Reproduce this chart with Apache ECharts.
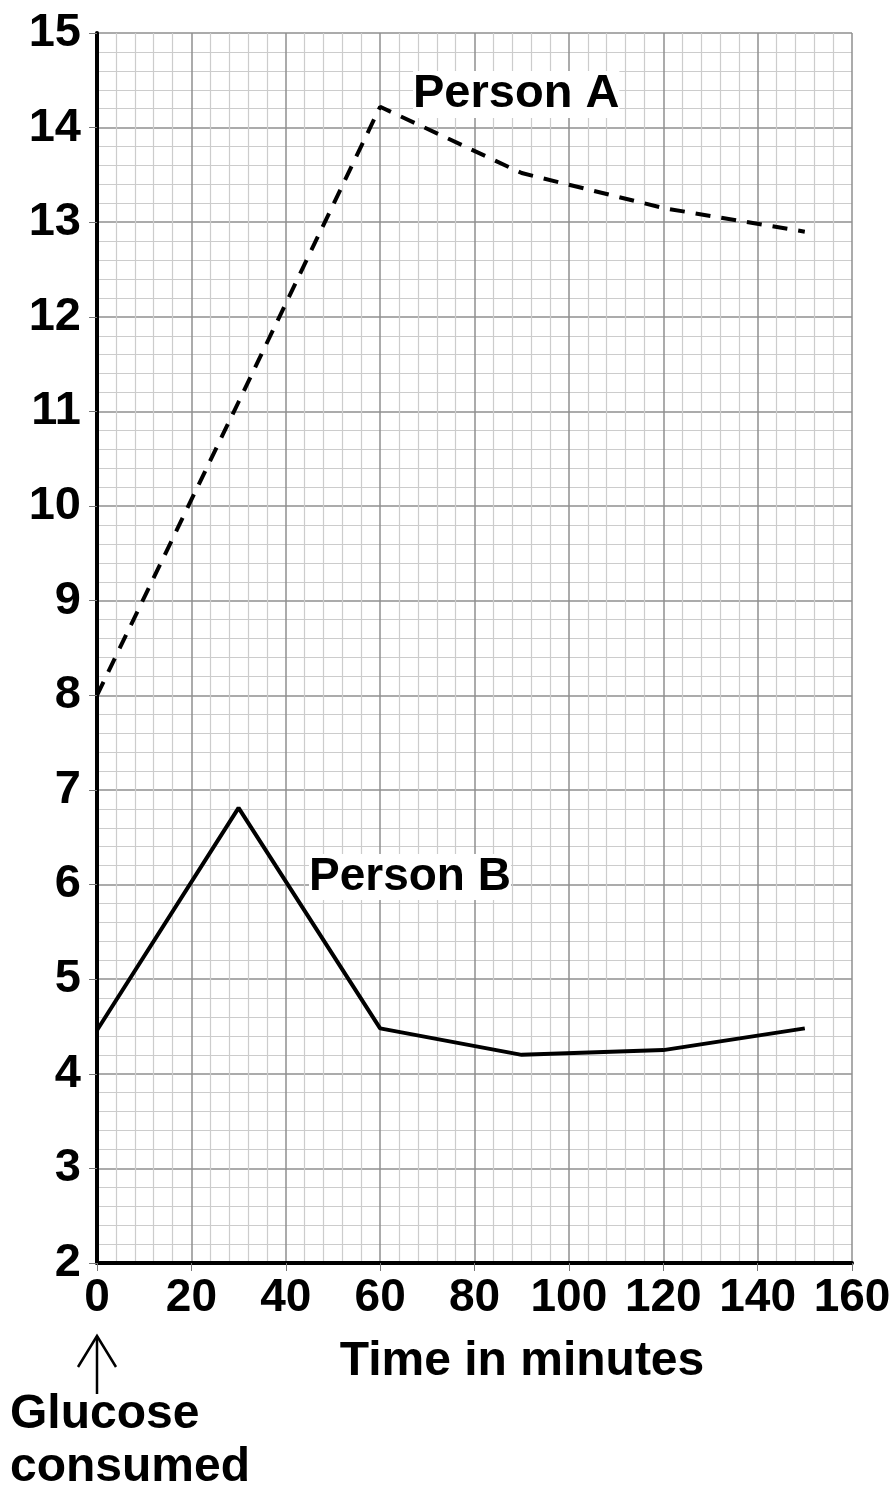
<!DOCTYPE html>
<html>
<head>
<meta charset="utf-8">
<script src="https://cdn.jsdelivr.net/npm/echarts@6/dist/echarts.min.js"></script>
<style>
  html, body { margin: 0; padding: 0; background: #fff; }
  #chart { width: 896px; height: 1486px; }
</style>
</head>
<body>
<div id="chart"></div>
<script>
// time points (minutes) and blood glucose readings
var times = [0, 30, 60, 90, 120, 150];
var personA = [8.0, 11.1, 14.22, 13.52, 13.15, 12.9];
var personB = [4.46, 6.81, 4.48, 4.2, 4.25, 4.48];

var font = '"Liberation Sans", Arial, sans-serif';

function pairs(xs, ys) {
    return xs.map(function (x, i) { return [x, ys[i]]; });
}

var myChart = echarts.init(document.getElementById('chart'));
var option = {
    backgroundColor: '#fff',
    animation: false,
    grid: { left: 97, right: 44, top: 33, bottom: 223 },
    xAxis: {
        type: 'value',
        min: 0, max: 160, interval: 20,
        axisLine: { show: true, lineStyle: { color: '#000', width: 4 } },
        axisTick: { show: true, length: 8, lineStyle: { color: '#777', width: 1 } },
        axisLabel: { fontFamily: font, fontWeight: 'bold', fontSize: 46, color: '#000', margin: 12 },
        splitLine: { show: true, lineStyle: { color: '#8f8f8f', width: 1.5 } },
        minorTick: { show: false, splitNumber: 5 },
        minorSplitLine: { show: true, lineStyle: { color: '#cccccc', width: 1.2 } }
    },
    yAxis: {
        type: 'value',
        min: 2, max: 15, interval: 1,
        axisLine: { show: true, lineStyle: { color: '#000', width: 4 } },
        axisTick: { show: true, length: 8, lineStyle: { color: '#777', width: 1 } },
        axisLabel: { fontFamily: font, fontWeight: 'bold', fontSize: 47, color: '#000', margin: 16 },
        splitLine: { show: true, lineStyle: { color: '#8f8f8f', width: 1.5 } },
        minorTick: { show: false, splitNumber: 5 },
        minorSplitLine: { show: true, lineStyle: { color: '#cccccc', width: 1.2 } }
    },
    series: [{
        name: 'Person A',
        type: 'line',
        data: pairs(times, personA),
        symbol: 'none',
        z: 5,
        lineStyle: { color: '#000', width: 4, type: [15, 11] }
    }, {
        name: 'Person B',
        type: 'line',
        data: pairs(times, personB),
        symbol: 'none',
        z: 5,
        lineStyle: { color: '#000', width: 4 }
    }],
    graphic: [{
        type: 'text', left: 413, top: 71, z: 10,
        style: { text: 'Person A', fontFamily: font, fontWeight: 'bold', fontSize: 47, fill: '#000',
                 backgroundColor: '#fff' }
    }, {
        type: 'text', left: 309, top: 854, z: 10,
        style: { text: 'Person B', fontFamily: font, fontWeight: 'bold', fontSize: 46, fill: '#000',
                 backgroundColor: '#fff' }
    }, {
        type: 'text', x: 522, y: 1338, z: 10,
        style: { text: 'Time in minutes', fontFamily: font, fontWeight: 'bold', fontSize: 48, fill: '#000',
                 align: 'center', verticalAlign: 'top' }
    }, {
        type: 'line', z: 10,
        shape: { x1: 97, y1: 1336, x2: 97, y2: 1394 },
        style: { stroke: '#000', lineWidth: 2.5 }
    }, {
        type: 'polyline', z: 10,
        shape: { points: [[78, 1367], [97, 1336], [116, 1367]] },
        style: { stroke: '#000', lineWidth: 2.5, fill: null }
    }, {
        type: 'text', left: 10, top: 1388, z: 10,
        style: { text: 'Glucose\nconsumed', fontFamily: font, fontWeight: 'bold', fontSize: 48,
                 lineHeight: 53, fill: '#000' }
    }]
};
myChart.setOption(option);
</script>
</body>
</html>
